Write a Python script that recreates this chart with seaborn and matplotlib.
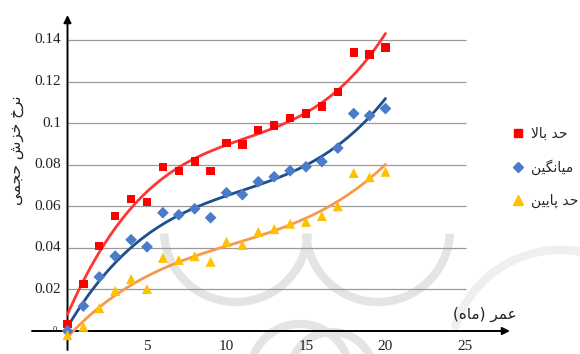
import numpy as np
import pandas as pd
import matplotlib
matplotlib.use("Agg")
import matplotlib.pyplot as plt
from matplotlib.lines import Line2D
import seaborn as sns

# ---- data -------------------------------------------------------------
months = list(range(0, 21))
upper = [0.0034, 0.0227, 0.0410, 0.0554, 0.0636, 0.0622, 0.0790, 0.0771, 0.0815, 0.0771,
         0.0906, 0.0897, 0.0966, 0.0988, 0.1025, 0.1046, 0.1080, 0.1150, 0.1340, 0.1330, 0.1364]
mean = [0.0000, 0.0120, 0.0260, 0.0360, 0.0439, 0.0405, 0.0569, 0.0559, 0.0588, 0.0545,
        0.0665, 0.0656, 0.0718, 0.0742, 0.0771, 0.0790, 0.0815, 0.0880, 0.1046, 0.1036, 0.1070]
lower = [-0.0020, 0.0020, 0.0110, 0.0193, 0.0250, 0.0202, 0.0352, 0.0342, 0.0360, 0.0333,
         0.0429, 0.0414, 0.0476, 0.0490, 0.0516, 0.0525, 0.0553, 0.0600, 0.0760, 0.0740, 0.0766]
series_names = ["حد بالا", "میانگین", "حد پایین"]
x_ticks = [5, 10, 15, 20, 25]
y_ticks = [0.02, 0.04, 0.06, 0.08, 0.10, 0.12, 0.14]
y_tick_labels = ["0.02", "0.04", "0.06", "0.08", "0.1", "0.12", "0.14"]
x_title = "عمر (ماه)"
y_title = "نرخ خزش حجمی"

# ---- simple Persian shaping (presentation forms + visual order) -------
FORMS = {
    'ا': ('\uFE8D', '\uFE8E', None, None),
    'ب': ('\uFE8F', '\uFE90', '\uFE91', '\uFE92'),
    'پ': ('\uFB56', '\uFB57', '\uFB58', '\uFB59'),
    'ت': ('\uFE95', '\uFE96', '\uFE97', '\uFE98'),
    'ج': ('\uFE9D', '\uFE9E', '\uFE9F', '\uFEA0'),
    'ح': ('\uFEA1', '\uFEA2', '\uFEA3', '\uFEA4'),
    'خ': ('\uFEA5', '\uFEA6', '\uFEA7', '\uFEA8'),
    'د': ('\uFEA9', '\uFEAA', None, None),
    'ر': ('\uFEAD', '\uFEAE', None, None),
    'ز': ('\uFEAF', '\uFEB0', None, None),
    'ش': ('\uFEB5', '\uFEB6', '\uFEB7', '\uFEB8'),
    'ع': ('\uFEC9', '\uFECA', '\uFECB', '\uFECC'),
    'ک': ('\uFB8E', '\uFB8F', '\uFB90', '\uFB91'),
    'گ': ('\uFB92', '\uFB93', '\uFB94', '\uFB95'),
    'ل': ('\uFEDD', '\uFEDE', '\uFEDF', '\uFEE0'),
    'م': ('\uFEE1', '\uFEE2', '\uFEE3', '\uFEE4'),
    'ن': ('\uFEE5', '\uFEE6', '\uFEE7', '\uFEE8'),
    'ه': ('\uFEE9', '\uFEEA', '\uFEEB', '\uFEEC'),
    'ی': ('\uFEEF', '\uFEF0', '\uFEF3', '\uFEF4'),
}
RIGHT_ONLY = set('اآدذرزژو')
MIRROR = {'(': ')', ')': '('}


def joins_next(c):
    return c in FORMS and c not in RIGHT_ONLY


def fa(text):
    chars = list(text)
    out = []
    i = 0
    while i < len(chars):
        c = chars[i]
        prev = chars[i - 1] if i > 0 else None
        nxt = chars[i + 1] if i + 1 < len(chars) else None
        if c not in FORMS:
            out.append(c)
            i += 1
            continue
        link_prev = prev is not None and joins_next(prev)
        if c == 'ل' and nxt == 'ا':
            out.append('\uFEFC' if link_prev else '\uFEFB')
            i += 2
            continue
        link_next = joins_next(c) and nxt in FORMS
        iso, fin, ini, med = FORMS[c]
        if link_prev and link_next:
            out.append(med)
        elif link_prev:
            out.append(fin)
        elif link_next:
            out.append(ini)
        else:
            out.append(iso)
        i += 1
    return ''.join(MIRROR.get(ch, ch) for ch in reversed(out))


# ---- figure -----------------------------------------------------------
sns.set_theme(style="white")
plt.rcParams['font.family'] = ['Liberation Serif', 'DejaVu Sans']

W, H = 580, 354
fig = plt.figure(figsize=(W / 100, H / 100), dpi=100)

# faint decorative watermark behind the chart
bg = fig.add_axes([0, 0, 1, 1], zorder=0)
bg.set_xlim(0, W)
bg.set_ylim(H, 0)
bg.axis("off")
wm = dict(color="#e4e4e4", lw=6, solid_capstyle="butt")
t = np.linspace(0.05, np.pi - 0.05, 200)
for cx in (236, 378):
    bg.plot(cx + 72 * np.cos(t), 230 + 72 * np.sin(t), **wm)
for cx, r in ((300, 50), (332, 42)):
    tt = np.linspace(np.pi * 1.05, np.pi * 1.95, 100)
    bg.plot(cx + r * np.cos(tt), 374 + r * np.sin(tt), **wm)
tt = np.linspace(np.pi * 1.1, np.pi * 1.6, 100)
bg.plot(560 + 110 * np.cos(tt), 360 + 110 * np.sin(tt), color="#efefef", lw=6)

# pixel geometry of the plotting frame
x0_px, x_unit = 67.5, 15.9
y0_px, y_unit = 331.0, 2078.6
left_px, right_px, top_px, bottom_px = 30, 515, 12, 354
ax = fig.add_axes([left_px / W, (H - bottom_px) / H,
                   (right_px - left_px) / W, (bottom_px - top_px) / H], zorder=1)
ax.patch.set_alpha(0)
ax.set_xlim((left_px - x0_px) / x_unit, (right_px - x0_px) / x_unit)
ax.set_ylim((y0_px - bottom_px) / y_unit, (y0_px - top_px) / y_unit)
for s in ax.spines.values():
    s.set_visible(False)

# horizontal grid
grid_end = (466 - x0_px) / x_unit
ax.hlines(y_ticks, 0, grid_end, color="#9a9a9a", lw=0.9, zorder=1)

# axes with arrows
ax.annotate("", xy=((510 - x0_px) / x_unit, 0), xytext=((32 - x0_px) / x_unit, 0),
            arrowprops=dict(arrowstyle="-|>", color="black", lw=1.4, mutation_scale=11,
                            shrinkA=0, shrinkB=0), zorder=3)
ax.annotate("", xy=(0, (y0_px - 15) / y_unit), xytext=(0, (y0_px - 350) / y_unit),
            arrowprops=dict(arrowstyle="-|>", color="black", lw=1.4, mutation_scale=11,
                            shrinkA=0, shrinkB=0), zorder=3)

df = pd.DataFrame({"month": months, "upper": upper, "mean": mean, "lower": lower})
styles = [
    ("upper", "#ff0000", "#ff3535", "s", 36),
    ("mean", "#4a7cc9", "#1f4e8c", "D", 36),
    ("lower", "#ffc000", "#f7984a", "^", 52),
]
for col, mcol, lcol, mk, sz in styles:
    sns.regplot(data=df, x="month", y=col, order=3, ci=None, scatter=False, ax=ax,
                line_kws=dict(color=lcol, lw=2.0, zorder=4))
for (col, mcol, lcol, mk, sz), name in zip(styles, series_names):
    sns.scatterplot(data=df, x="month", y=col, marker=mk, s=sz, color=mcol,
                    edgecolor="none", ax=ax, zorder=5, label=fa(name), clip_on=False)

ax.set_xlabel("")
ax.set_ylabel("")
ax.set_xticks([])
ax.set_yticks([])

# tick labels
for v, lab in zip(y_ticks, y_tick_labels):
    ax.text(-0.4, v, lab, ha="right", va="center", fontsize=11,
            family="Liberation Serif", color="#222222")
ax.text(-0.65, 0.0005, "0", ha="right", va="center", fontsize=6,
        family="Liberation Serif", color="#222222")
for v in x_ticks:
    ax.text(v, (y0_px - 346.5) / y_unit, str(v), ha="center", va="center", fontsize=11,
            family="Liberation Serif", color="#222222")

# axis titles
fig.text(485 / W, 1 - 314 / H, fa(x_title), ha="center", va="center", fontsize=11,
         family="DejaVu Sans", color="#222222")
fig.text(17 / W, 1 - 150 / H, fa(y_title), ha="center", va="center", fontsize=11,
         family="DejaVu Sans", rotation=90, color="#222222")

# legend
handles = [
    Line2D([], [], ls="none", marker="s", color="#ff0000", markersize=6),
    Line2D([], [], ls="none", marker="D", color="#4a7cc9", markersize=5.5),
    Line2D([], [], ls="none", marker="^", color="#ffc000", markersize=7.5),
]
ax.legend(handles, [fa(n) for n in series_names], loc="upper left",
          bbox_to_anchor=(505 / W, 1 - 120 / H), bbox_transform=fig.transFigure,
          frameon=False, prop=dict(family="DejaVu Sans", size=10),
          handlelength=0.8, handletextpad=0.6, labelspacing=1.35, borderpad=0)

fig.savefig("out.png", dpi=100)
